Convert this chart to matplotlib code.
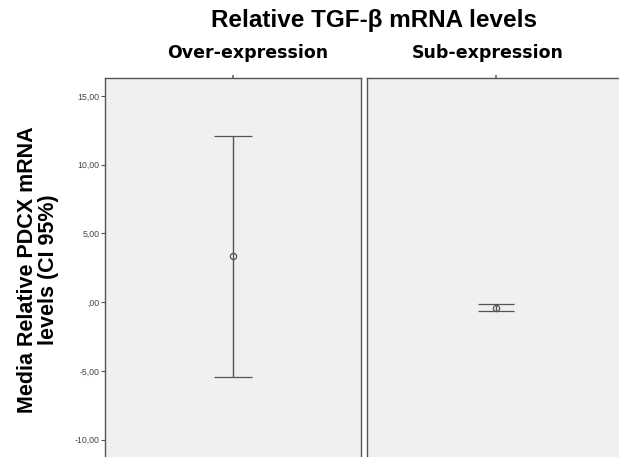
import matplotlib

matplotlib.use("Agg")
import matplotlib.pyplot as plt

# group means and 95% CI bounds
groups = ["Over-expression", "Sub-expression"]
means = [3.33, -0.43]
ci_low = [-5.43, -0.65]
ci_high = [12.1, -0.15]
yticks = [-10, -5, 0, 5, 10, 15]
ytick_labels = ["-10,00", "-5,00", ",00", "5,00", "10,00", "15,00"]

W, H = 619, 457
fig = plt.figure(figsize=(W / 100, H / 100), dpi=100)

panel_px = [(105, 361), (367, 625)]
label_x = [248, 488]
cap_pts = [14, 13]
top_px, bot_px = 78, 457
for i, (x0, x1) in enumerate(panel_px):
    ax = fig.add_axes([x0 / W, 1 - bot_px / H, (x1 - x0) / W, (bot_px - top_px) / H])
    ax.set_facecolor("#f0f0f0")
    ax.set_xlim(-1, 1)
    ax.set_ylim(-11.25, 16.3)
    for s in ax.spines.values():
        s.set_color("#555555")
        s.set_linewidth(1.0)
    ax.spines["bottom"].set_visible(False)
    # the little tick above each panel
    ax.set_xticks([0])
    ax.tick_params(axis="x", bottom=False, labelbottom=False, top=True,
                   length=2, width=1.2, color="#666666")
    ax.set_yticks(yticks)
    if i == 0:
        ax.set_yticklabels(ytick_labels, fontsize=6.3, color="#444444", family="Liberation Sans")
        ax.tick_params(axis="y", length=3, width=0.8, color="#555555", pad=1)
    else:
        ax.tick_params(axis="y", left=False, labelleft=False)
    lo, hi = means[i] - ci_low[i], ci_high[i] - means[i]
    ax.errorbar([0], [means[i]], yerr=[[lo], [hi]], fmt="o", ms=4.5, mfc="none",
                mec="#555555", mew=0.9, ecolor="#555555", elinewidth=1.0,
                capsize=cap_pts[i], capthick=1.0)
    fig.text(label_x[i] / W, 1 - 53 / H, groups[i], ha="center", va="center",
             fontsize=12.5, fontweight="bold", family="DejaVu Sans")

fig.text(374 / W, 1 - 20 / H, "Relative TGF-β mRNA levels", ha="center", va="center",
         fontsize=17.5, fontweight="bold", family="Liberation Sans")
fig.text(38 / W, 1 - 270 / H, "Media Relative PDCX mRNA\nlevels (CI 95%)", ha="center",
         va="center", rotation=90, fontsize=15.5, fontweight="bold",
         family="Liberation Sans", linespacing=1.0)

fig.savefig("out.png", dpi=100)
